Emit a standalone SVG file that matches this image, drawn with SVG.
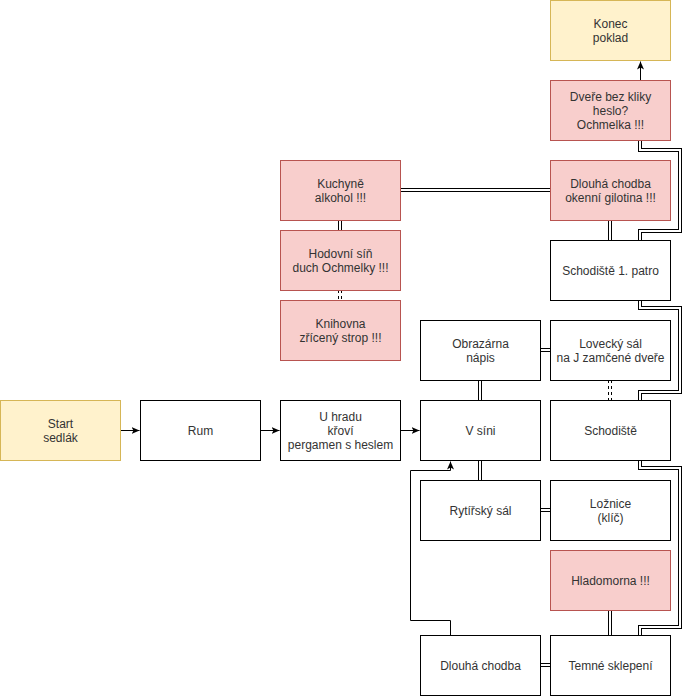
<svg xmlns="http://www.w3.org/2000/svg" width="683" height="696" viewBox="0 0 683 696">
<defs>
<marker id="arr" markerWidth="8" markerHeight="8" refX="8" refY="4" orient="auto" markerUnits="userSpaceOnUse"><path d="M0,0.5 L8,4 L0,7.5 L2,4 z" fill="#000"/></marker>
</defs>
<style>
.n rect {stroke:#000; fill:#fff; stroke-width:1}
.y rect {fill:#fff2cc; stroke:#d6b656}
.r rect {fill:#f8cecc; stroke:#b85450}
text {font-family:"Liberation Sans", Arial, Helvetica, sans-serif; font-size:12px; fill:#333; text-anchor:middle}
.o {fill:none; stroke:#000; stroke-width:4}
.i {fill:none; stroke:#fff; stroke-width:2}
.d {stroke-dasharray:3 3}
.a {fill:none; stroke:#000; stroke-width:1; marker-end:url(#arr)}
</style>
<rect width="683" height="696" fill="#fff"/>
<g id="connectors">
  <g transform="translate(0.5,0.5)">
    <path class="a" d="M120,430 H139"/>
    <path class="a" d="M260,430 H279"/>
    <path class="a" d="M400,430 H419"/>
    <path class="a" d="M640,80 V61"/>
    <path class="a" d="M450,635 V620 H410 V470 H450 V461"/>
  </g>
  <path class="o" d="M480,380 V400"/><path class="i" d="M480,380 V400"/>
  <path class="o" d="M480,460 V480"/><path class="i" d="M480,460 V480"/>
  <path class="o" d="M540,510 H550"/><path class="i" d="M540,510 H550"/>
  <path class="o" d="M540,665 H550"/><path class="i" d="M540,665 H550"/>
  <path class="o" d="M540,350 H550"/><path class="i" d="M540,350 H550"/>
  <path class="o" d="M400,190 H550"/><path class="i" d="M400,190 H550"/>
  <path class="o" d="M340,220 V230"/><path class="i" d="M340,220 V230"/>
  <path class="o d" d="M340,290 V300"/><path class="i" d="M340,290 V300"/>
  <path class="o" d="M610,220 V240"/><path class="i" d="M610,220 V240"/>
  <path class="o" d="M610,610 V635"/><path class="i" d="M610,610 V635"/>
  <path class="o d" d="M610,380 V400"/><path class="i" d="M610,380 V400"/>
  <path class="o" d="M640,140 V150 H680 V231 H640 V240"/><path class="i" d="M640,140 V150 H680 V231 H640 V240"/>
  <path class="o" d="M640,300 V308 H680 V392 H640 V400"/><path class="i" d="M640,300 V308 H680 V392 H640 V400"/>
  <path class="o" d="M640,460 V468 H680 V627 H640 V635"/><path class="i" d="M640,460 V468 H680 V627 H640 V635"/>
</g>
<g transform="translate(0.5,0.5)">
<g id="konec" class="n y"><rect x="550" y="0" width="120" height="60"/><text x="610" y="27">Konec</text><text x="610" y="41">poklad</text></g>
<g id="dvere" class="n r"><rect x="550" y="80" width="120" height="60"/><text x="610" y="100">Dveře bez kliky</text><text x="610" y="114">heslo?</text><text x="610" y="128">Ochmelka !!!</text></g>
<g id="dlouha-chodba-1" class="n r"><rect x="550" y="160" width="120" height="60"/><text x="610" y="187">Dlouhá chodba</text><text x="610" y="201">okenní gilotina !!!</text></g>
<g id="schodiste-1" class="n"><rect x="550" y="240" width="120" height="60"/><text x="610" y="274">Schodiště 1. patro</text></g>
<g id="lovecky" class="n"><rect x="550" y="320" width="120" height="60"/><text x="610" y="347">Lovecký sál</text><text x="610" y="361">na J zamčené dveře</text></g>
<g id="schodiste" class="n"><rect x="550" y="400" width="120" height="60"/><text x="610" y="434">Schodiště</text></g>
<g id="loznice" class="n"><rect x="550" y="480" width="120" height="60"/><text x="610" y="507">Ložnice</text><text x="610" y="521">(klíč)</text></g>
<g id="hladomorna" class="n r"><rect x="550" y="550" width="120" height="60"/><text x="610" y="584">Hladomorna !!!</text></g>
<g id="temne" class="n"><rect x="550" y="635" width="120" height="60"/><text x="610" y="669">Temné sklepení</text></g>
<g id="obrazarna" class="n"><rect x="420" y="320" width="120" height="60"/><text x="480" y="347">Obrazárna</text><text x="480" y="361">nápis</text></g>
<g id="vsini" class="n"><rect x="420" y="400" width="120" height="60"/><text x="480" y="434">V síni</text></g>
<g id="rytirsky" class="n"><rect x="420" y="480" width="120" height="60"/><text x="480" y="514">Rytířský sál</text></g>
<g id="dlouha-chodba-2" class="n"><rect x="420" y="635" width="120" height="60"/><text x="480" y="669">Dlouhá chodba</text></g>
<g id="kuchyne" class="n r"><rect x="280" y="160" width="120" height="60"/><text x="340" y="187">Kuchyně</text><text x="340" y="201">alkohol !!!</text></g>
<g id="hodovni" class="n r"><rect x="280" y="230" width="120" height="60"/><text x="340" y="257">Hodovní síň</text><text x="340" y="271">duch Ochmelky !!!</text></g>
<g id="knihovna" class="n r"><rect x="280" y="300" width="120" height="60"/><text x="340" y="327">Knihovna</text><text x="340" y="341">zřícený strop !!!</text></g>
<g id="start" class="n y"><rect x="0" y="400" width="120" height="60"/><text x="60" y="427">Start</text><text x="60" y="441">sedlák</text></g>
<g id="rum" class="n"><rect x="140" y="400" width="120" height="60"/><text x="200" y="434">Rum</text></g>
<g id="uhradu" class="n"><rect x="280" y="400" width="120" height="60"/><text x="340" y="420">U hradu</text><text x="340" y="434">křoví</text><text x="340" y="448">pergamen s heslem</text></g>
</g>
</svg>
